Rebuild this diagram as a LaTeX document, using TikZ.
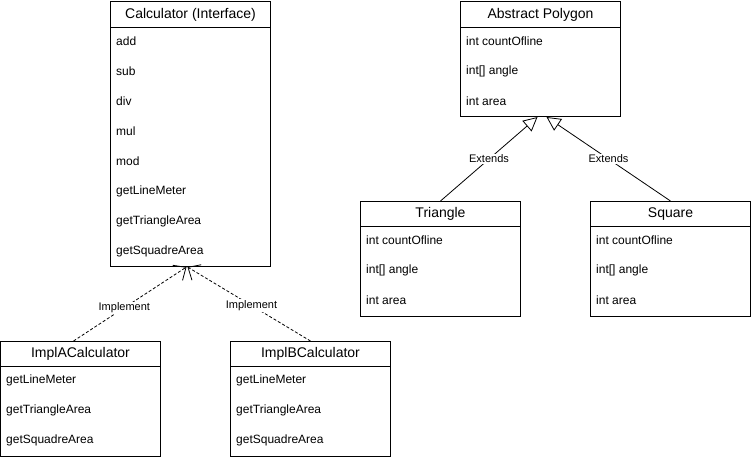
\documentclass[tikz,border=0pt]{standalone}
\usepackage{fontspec}
\setmainfont{Liberation Sans}
\usetikzlibrary{arrows.meta}
\tikzset{
  umlbox/.style={draw=black, line width=1pt, fill=white, inner sep=0pt, anchor=north west},
  hdr/.style={font=\fontsize{14}{16}\selectfont, inner sep=0pt, anchor=center},
  item/.style={font=\fontsize{12}{14}\selectfont, inner sep=0pt, anchor=west},
  sep/.style={draw=black, line width=1pt},
  impl/.style={draw=black, line width=0.8pt, dash pattern=on 3pt off 2pt, -{Straight Barb[length=10pt,width=18pt,line width=0.8pt]}},
  ext/.style={draw=black, line width=0.8pt, -{Triangle[open, length=14pt, width=14pt, fill=white, line width=0.8pt]}},
  lbl/.style={font=\fontsize{11}{13}\selectfont, fill=white, inner sep=1pt}
}
\begin{document}
\begin{tikzpicture}[x=1pt,y=-1pt]
\useasboundingbox (0,0) rectangle (751,460);
% Calculator interface
\node[umlbox, minimum width=160pt, minimum height=265pt] (calc) at (110,1) {};
\draw[sep] ([yshift=-27pt]calc.north west) -- ([yshift=-27pt]calc.north east);
\node[hdr] (calch) at ([yshift=-14pt]calc.north) {Calculator (Interface)};
\node[item] (c1) at ([xshift=6pt,yshift=-40pt]calc.north west) {add};
\node[item] (c2) at ([xshift=6pt,yshift=-70pt]calc.north west) {sub};
\node[item] (c3) at ([xshift=6pt,yshift=-100pt]calc.north west) {div};
\node[item] (c4) at ([xshift=6pt,yshift=-130pt]calc.north west) {mul};
\node[item] (c5) at ([xshift=6pt,yshift=-160pt]calc.north west) {mod};
\node[item] (c6) at ([xshift=6pt,yshift=-190pt]calc.north west) {getLineMeter};
\node[item] (c7) at ([xshift=6pt,yshift=-220pt]calc.north west) {getTriangleArea};
\node[item] (c8) at ([xshift=6pt,yshift=-250pt]calc.north west) {getSquadreArea};
% Abstract Polygon
\node[umlbox, minimum width=160pt, minimum height=115pt] (poly) at (460,1) {};
\draw[sep] ([yshift=-27pt]poly.north west) -- ([yshift=-27pt]poly.north east);
\node[hdr] (polyh) at ([yshift=-14pt]poly.north) {Abstract Polygon};
\node[item] (p1) at ([xshift=6pt,yshift=-40pt]poly.north west) {int countOfline};
\node[item] (p2) at ([xshift=6pt,yshift=-70pt]poly.north west) {int[] angle};
\node[item] (p3) at ([xshift=6pt,yshift=-100pt]poly.north west) {int area};
% Triangle
\node[umlbox, minimum width=160pt, minimum height=115pt] (tri) at (360,201) {};
\draw[sep] ([yshift=-25pt]tri.north west) -- ([yshift=-25pt]tri.north east);
\node[hdr] (trih) at ([yshift=-13pt]tri.north) {Triangle};
\node[item] (t1) at ([xshift=6pt,yshift=-39pt]tri.north west) {int countOfline};
\node[item] (t2) at ([xshift=6pt,yshift=-69pt]tri.north west) {int[] angle};
\node[item] (t3) at ([xshift=6pt,yshift=-99pt]tri.north west) {int area};
% Square
\node[umlbox, minimum width=160pt, minimum height=115pt] (sq) at (590,201) {};
\draw[sep] ([yshift=-25pt]sq.north west) -- ([yshift=-25pt]sq.north east);
\node[hdr] (sqh) at ([yshift=-13pt]sq.north) {Square};
\node[item] (s1) at ([xshift=6pt,yshift=-39pt]sq.north west) {int countOfline};
\node[item] (s2) at ([xshift=6pt,yshift=-69pt]sq.north west) {int[] angle};
\node[item] (s3) at ([xshift=6pt,yshift=-99pt]sq.north west) {int area};
% ImplACalculator
\node[umlbox, minimum width=160pt, minimum height=115pt] (impa) at (0,341) {};
\draw[sep] ([yshift=-25pt]impa.north west) -- ([yshift=-25pt]impa.north east);
\node[hdr] (impah) at ([yshift=-13pt]impa.north) {ImplACalculator};
\node[item] (a1) at ([xshift=6pt,yshift=-39pt]impa.north west) {getLineMeter};
\node[item] (a2) at ([xshift=6pt,yshift=-69pt]impa.north west) {getTriangleArea};
\node[item] (a3) at ([xshift=6pt,yshift=-99pt]impa.north west) {getSquadreArea};
% ImplBCalculator
\node[umlbox, minimum width=160pt, minimum height=115pt] (impb) at (230,341) {};
\draw[sep] ([yshift=-25pt]impb.north west) -- ([yshift=-25pt]impb.north east);
\node[hdr] (impbh) at ([yshift=-13pt]impb.north) {ImplBCalculator};
\node[item] (b1) at ([xshift=6pt,yshift=-39pt]impb.north west) {getLineMeter};
\node[item] (b2) at ([xshift=6pt,yshift=-69pt]impb.north west) {getTriangleArea};
\node[item] (b3) at ([xshift=6pt,yshift=-99pt]impb.north west) {getSquadreArea};
% connectors
\draw[impl] ([xshift=-7pt]impa.north) -- node[lbl, pos=0.45] {Implement} ([xshift=-4pt]calc.south);
\draw[impl] ([xshift=0pt]impb.north) -- node[lbl, pos=0.48] {Implement} ([xshift=-3pt]calc.south);
\draw[ext] (tri.north) -- node[lbl] {Extends} ([xshift=-3pt]poly.south);
\draw[ext] (sq.north) -- node[lbl] {Extends} ([xshift=6pt]poly.south);
\end{tikzpicture}
\end{document}
